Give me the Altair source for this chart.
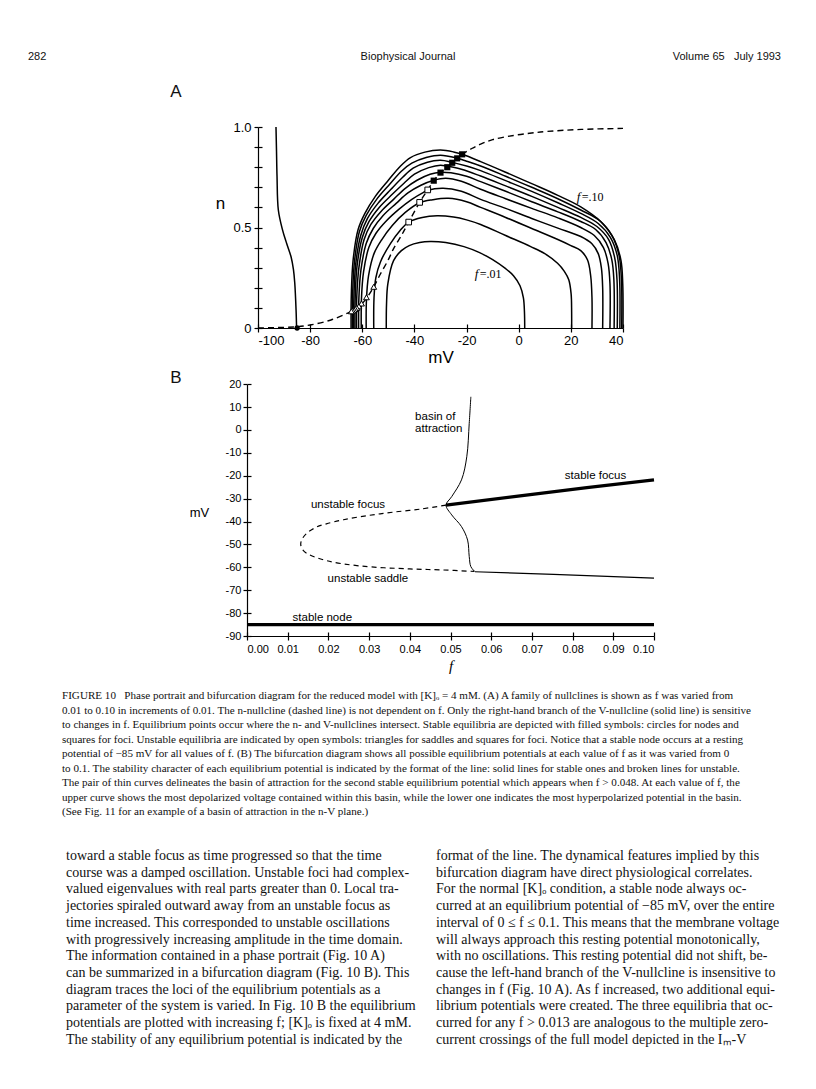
import altair as alt
import pandas as pd

W, H = 800, 1073

# ---------------- Panel A data (mV, n) ----------------
# left-hand V-nullcline branch (independent of f)
lb_V = [-93.1, -92.9, -92.7, -92.2, -90.6, -89.0, -87.3, -86.4, -85.9, -85.4, -85.2]
lb_n = [1.0, 0.88, 0.753, 0.587, 0.488, 0.42, 0.353, 0.29, 0.224, 0.09, 0.0]

# right-hand V-nullcline branches for f = 0.01 ... 0.10
f01_V = [-50.8, -50.7, -50.2, -48.0, -45.0, -42.0, -38.0, -34.0, -28.0, -21.0, -15.0, -10.0, -5.0, -2.0, 0.5, 1.8, 2.2, 2.3]
f01_n = [0.0, 0.12, 0.22, 0.335, 0.385, 0.41, 0.425, 0.43, 0.425, 0.405, 0.375, 0.34, 0.295, 0.26, 0.21, 0.15, 0.08, 0.0]
f02_V = [-55.6, -55.5, -54.8, -53.0, -49.2, -45.5, -42.2, -37.0, -31.3, -25.0, -20.0, -14.6, -5.0, 4.6, 10.0, 14.9, 17.5, 19.2, 20.1, 20.3, 20.3]
f02_n = [0.0, 0.15, 0.25, 0.33, 0.42, 0.485, 0.527, 0.55, 0.558, 0.552, 0.538, 0.515, 0.46, 0.405, 0.37, 0.322, 0.282, 0.24, 0.17, 0.08, 0.0]
f03_V = [-58.5, -58.4, -57.6, -55.5, -52.5, -48.5, -43.5, -38.0, -33.0, -27.0, -20.0, -14.6, -5.0, 5.0, 15.0, 20.0, 23.8, 26.4, 27.6, 28.1, 28.1]
f03_n = [0.0, 0.14, 0.26, 0.37, 0.44, 0.51, 0.575, 0.623, 0.638, 0.645, 0.628, 0.60, 0.55, 0.495, 0.44, 0.41, 0.385, 0.338, 0.26, 0.15, 0.0]
f04_V = [-60.4, -60.3, -59.5, -57.5, -54.8, -51.0, -46.0, -41.0, -36.5, -34.9, -29.0, -22.0, -14.6, -5.0, 5.0, 15.0, 23.8, 28.0, 30.5, 31.7, 32.2, 32.2]
f04_n = [0.0, 0.15, 0.28, 0.40, 0.47, 0.53, 0.59, 0.64, 0.675, 0.685, 0.695, 0.68, 0.64, 0.595, 0.545, 0.497, 0.455, 0.42, 0.37, 0.30, 0.20, 0.0]
f05_V = [-61.4, -61.3, -60.5, -58.5, -55.8, -52.0, -47.0, -42.5, -37.5, -32.6, -28.0, -22.0, -14.6, -5.0, 5.0, 15.0, 23.8, 29.0, 32.5, 34.3, 35.0, 35.0]
f05_n = [0.0, 0.15, 0.29, 0.42, 0.495, 0.56, 0.62, 0.672, 0.71, 0.735, 0.745, 0.73, 0.69, 0.643, 0.595, 0.548, 0.50, 0.46, 0.40, 0.32, 0.22, 0.0]
f06_V = [-62.2, -62.1, -61.3, -59.3, -56.7, -52.8, -48.0, -43.5, -39.0, -34.0, -30.0, -26.0, -20.0, -14.6, -5.0, 5.0, 15.0, 23.8, 29.5, 33.5, 35.7, 36.5, 36.6]
f06_n = [0.0, 0.16, 0.30, 0.44, 0.515, 0.58, 0.64, 0.695, 0.735, 0.765, 0.775, 0.772, 0.755, 0.728, 0.68, 0.628, 0.578, 0.53, 0.49, 0.425, 0.34, 0.24, 0.0]
f07_V = [-62.8, -62.7, -62.0, -60.0, -57.4, -53.5, -48.5, -44.0, -40.0, -34.5, -30.0, -27.4, -22.0, -14.6, -5.0, 5.0, 15.0, 23.8, 30.0, 34.5, 36.8, 37.7, 37.8]
f07_n = [0.0, 0.16, 0.31, 0.45, 0.53, 0.60, 0.665, 0.72, 0.765, 0.798, 0.81, 0.805, 0.79, 0.756, 0.707, 0.655, 0.60, 0.55, 0.505, 0.44, 0.35, 0.24, 0.0]
f08_V = [-63.3, -63.2, -62.5, -60.6, -58.0, -54.0, -49.0, -44.5, -40.5, -35.0, -30.0, -25.5, -20.0, -14.6, -5.0, 5.0, 15.0, 23.8, 30.5, 35.2, 37.8, 38.7, 38.8]
f08_n = [0.0, 0.16, 0.32, 0.46, 0.545, 0.62, 0.69, 0.75, 0.795, 0.825, 0.834, 0.824, 0.806, 0.783, 0.733, 0.68, 0.623, 0.57, 0.52, 0.45, 0.36, 0.24, 0.0]
f09_V = [-63.8, -63.7, -63.0, -61.1, -58.5, -54.5, -49.5, -45.0, -41.0, -35.5, -30.0, -23.6, -20.0, -14.6, -5.0, 5.0, 15.0, 23.8, 31.0, 35.8, 38.5, 39.4, 39.5]
f09_n = [0.0, 0.17, 0.33, 0.48, 0.56, 0.64, 0.715, 0.78, 0.82, 0.848, 0.86, 0.845, 0.83, 0.806, 0.755, 0.70, 0.643, 0.587, 0.535, 0.46, 0.36, 0.24, 0.0]
f10_V = [-64.3, -64.2, -63.5, -61.6, -59.0, -55.0, -50.0, -45.4, -41.5, -36.0, -30.0, -25.0, -21.7, -14.6, -5.0, 5.0, 15.0, 23.8, 31.5, 36.7, 39.2, 39.9, 40.0]
f10_n = [0.0, 0.17, 0.34, 0.49, 0.57, 0.655, 0.735, 0.805, 0.848, 0.875, 0.885, 0.876, 0.864, 0.828, 0.775, 0.718, 0.66, 0.603, 0.529, 0.438, 0.338, 0.22, 0.0]

# n-nullcline (dashed)
nn_V = [-100, -90, -85, -80, -72, -65, -62, -60, -58, -55.6, -53, -50, -48, -45, -42.2, -38, -34.9, -32.6, -30, -27.4, -25.5, -23.6, -21.7, -18, -14.6, -10, -2, 5, 11, 24, 40]
nn_n = [0.0, 0.003, 0.006, 0.015, 0.04, 0.078, 0.1, 0.122, 0.155, 0.205, 0.27, 0.34, 0.395, 0.46, 0.527, 0.625, 0.687, 0.733, 0.773, 0.8, 0.822, 0.844, 0.864, 0.893, 0.915, 0.937, 0.958, 0.97, 0.978, 0.988, 0.993]

# equilibria
node_V, node_n = [-85.0], [0.0]
saddle_V = [-55.6, -58.4, -60.3, -61.3, -62.1, -62.7, -63.2, -63.7, -64.2]
saddle_n = [0.205, 0.153, 0.122, 0.108, 0.1, 0.095, 0.09, 0.086, 0.083]
ufoc_V = [-42.2, -38.0, -34.9]
ufoc_n = [0.527, 0.625, 0.687]
sfoc_V = [-32.6, -30.0, -27.4, -25.5, -23.6, -21.7]
sfoc_n = [0.733, 0.773, 0.8, 0.822, 0.844, 0.864]

# ---------------- Panel B data (f, mV) ----------------
snode_f, snode_mV = [0.0, 0.1], [-85.0, -85.0]
unst_f = [0.0489, 0.0425, 0.0359, 0.030, 0.0237, 0.0195, 0.0171, 0.0147, 0.0135, 0.0132, 0.0135, 0.0147, 0.0196, 0.0278, 0.040, 0.0474, 0.0558]
unst_mV = [-32.8, -34.6, -35.9, -37.3, -39.2, -41.0, -42.4, -45.1, -47.8, -49.8, -51.8, -53.9, -57.1, -59.4, -60.7, -61.1, -61.8]
sfocB_f = [0.0489, 0.0671, 0.0835, 0.100]
sfocB_mV = [-32.8, -28.8, -25.2, -21.8]
low_f = [0.056, 0.0753, 0.100]
low_mV = [-61.9, -63.1, -64.7]
basin_f = [0.0550, 0.0546, 0.0540, 0.0527, 0.0503, 0.0489, 0.0503, 0.0527, 0.0542, 0.0546, 0.0550, 0.0560]
basin_mV = [14.5, 2.9, -11.7, -21.8, -29.1, -32.8, -37.1, -42.2, -48.1, -55.3, -59.7, -61.9]

labB_text = ["basin of", "attraction", "stable focus", "unstable focus", "unstable saddle", "stable node"]
labB_f = [0.0413, 0.0413, 0.0781, 0.0157, 0.0198, 0.0112]
labB_mV = [5.6, 0.6, -20.1, -32.8, -65.0, -82.3]

# ---------------- page text ----------------
caption_lines = [
    "FIGURE 10\u00a0\u00a0\u00a0Phase portrait and bifurcation diagram for the reduced model with [K]\u2092 = 4 mM. (A) A family of nullclines is shown as f was varied from",
    "0.01 to 0.10 in increments of 0.01. The n-nullcline (dashed line) is not dependent on f. Only the right-hand branch of the V-nullcline (solid line) is sensitive",
    "to changes in f. Equilibrium points occur where the n- and V-nullclines intersect. Stable equilibria are depicted with filled symbols: circles for nodes and",
    "squares for foci. Unstable equilibria are indicated by open symbols: triangles for saddles and squares for foci. Notice that a stable node occurs at a resting",
    "potential of \u221285 mV for all values of f. (B) The bifurcation diagram shows all possible equilibrium potentials at each value of f as it was varied from 0",
    "to 0.1. The stability character of each equilibrium potential is indicated by the format of the line: solid lines for stable ones and broken lines for unstable.",
    "The pair of thin curves delineates the basin of attraction for the second stable equilibrium potential which appears when f > 0.048. At each value of f, the",
    "upper curve shows the most depolarized voltage contained within this basin, while the lower one indicates the most hyperpolarized potential in the basin.",
    "(See Fig. 11 for an example of a basin of attraction in the n-V plane.)",
]
body_left = [
    "toward a stable focus as time progressed so that the time",
    "course was a damped oscillation. Unstable foci had complex-",
    "valued eigenvalues with real parts greater than 0. Local tra-",
    "jectories spiraled outward away from an unstable focus as",
    "time increased. This corresponded to unstable oscillations",
    "with progressively increasing amplitude in the time domain.",
    "\u00a0\u00a0\u00a0The information contained in a phase portrait (Fig. 10 A)",
    "can be summarized in a bifurcation diagram (Fig. 10 B). This",
    "diagram traces the loci of the equilibrium potentials as a",
    "parameter of the system is varied. In Fig. 10 B the equilibrium",
    "potentials are plotted with increasing f; [K]\u2092 is fixed at 4 mM.",
    "The stability of any equilibrium potential is indicated by the",
]
body_right = [
    "format of the line. The dynamical features implied by this",
    "bifurcation diagram have direct physiological correlates.",
    "\u00a0\u00a0\u00a0For the normal [K]\u2092 condition, a stable node always oc-",
    "curred at an equilibrium potential of \u221285 mV, over the entire",
    "interval of 0 \u2264 f \u2264 0.1. This means that the membrane voltage",
    "will always approach this resting potential monotonically,",
    "with no oscillations. This resting potential did not shift, be-",
    "cause the left-hand branch of the V-nullcline is insensitive to",
    "changes in f (Fig. 10 A). As f increased, two additional equi-",
    "librium potentials were created. The three equilibria that oc-",
    "curred for any f > 0.013 are analogous to the multiple zero-",
    "current crossings of the full model depicted in the I\u2098-V",
]

SANS = "Liberation Sans"
SERIF = "Liberation Serif"

# ---------------- build tables ----------------
curves = [(".01", f01_V, f01_n), (".02", f02_V, f02_n), (".03", f03_V, f03_n), (".04", f04_V, f04_n),
          (".05", f05_V, f05_n), (".06", f06_V, f06_n), (".07", f07_V, f07_n), (".08", f08_V, f08_n),
          (".09", f09_V, f09_n), (".10", f10_V, f10_n)]
rows = []
for name, vs, ns in curves:
    for i, (v, n) in enumerate(zip(vs, ns)):
        rows.append({"f": name, "V": v, "n": n, "i": i})
dfA_curves = pd.DataFrame(rows)
dfA_left = pd.DataFrame({"V": lb_V, "n": lb_n, "i": list(range(len(lb_V)))})
dfA_nn = pd.DataFrame({"V": nn_V, "n": nn_n, "i": list(range(len(nn_V)))})
dfA_node = pd.DataFrame({"V": node_V, "n": node_n})
dfA_saddle = pd.DataFrame({"V": saddle_V, "n": saddle_n})
dfA_ufoc = pd.DataFrame({"V": ufoc_V, "n": ufoc_n})
dfA_sfoc = pd.DataFrame({"V": sfoc_V, "n": sfoc_n})

# ---------------- scales & axes ----------------
tick_common = dict(tickColor="black", domainColor="black", labelColor="black", titleColor="black",
                   tickWidth=1.2, domainWidth=1.2, grid=False)
minus_expr = "datum.value < 0 ? '-' + abs(datum.value) : '' + datum.value"

scA_x = alt.Scale(domain=[-100, 40], range=[250, 615], nice=False, zero=False)
scA_y = alt.Scale(domain=[0, 1], range=[320, 119], nice=False, zero=False)
axA_x = alt.Axis(orient="bottom", offset=320 - H, values=list(range(-100, 41, 20)), labelExpr=minus_expr,
                 tickSize=4, labelFontSize=13, labelFont=SANS, labelPadding=2,
                 title="mV", titleFont=SANS, titleFontSize=17, titleFontWeight="normal", titlePadding=2,
                 **tick_common)
axA_y = alt.Axis(orient="left", offset=-250, values=[round(0.1 * k, 1) for k in range(11)],
                 labelExpr="datum.value == 0 ? '0' : (abs(datum.value - 0.5) < 0.001 ? '0.5' : (abs(datum.value - 1) < 0.001 ? '1.0' : ''))",
                 tickSize=4, labelFontSize=13, labelFont=SANS, labelPadding=3,
                 title="n", titleFont=SANS, titleFontSize=17, titleFontWeight="normal", titleAngle=0,
                 titleX=-38, titleY=195, titleAlign="center", titleBaseline="middle", **tick_common)
axA_x2 = alt.Axis(orient="top", offset=-320, values=list(range(-100, 41, 20)), labels=False, domain=False,
                  tickSize=4, title=None, **tick_common)
axA_y2 = alt.Axis(orient="right", offset=250 - W, values=[round(0.1 * k, 1) for k in range(11)], labels=False,
                  domain=False, tickSize=4, title=None, **tick_common)


def encA(**extra):
    return dict(x=alt.X("V:Q", scale=scA_x, axis=axA_x), y=alt.Y("n:Q", scale=scA_y, axis=axA_y), **extra)


A_left = alt.Chart(dfA_left).mark_line(color="black", strokeWidth=1.5, interpolate="catmull-rom").encode(
    **encA(order="i:Q"))
A_curves = alt.Chart(dfA_curves).mark_line(color="black", strokeWidth=1.5, interpolate="catmull-rom").encode(
    **encA(detail="f:N", order="i:Q"))
A_nn = alt.Chart(dfA_nn).mark_line(color="black", strokeWidth=1.4, strokeDash=[6, 4], interpolate="catmull-rom").encode(
    **encA(order="i:Q"))
A_node = alt.Chart(dfA_node).mark_point(shape="circle", size=28, filled=True, color="black", opacity=1).encode(**encA())
A_saddle = alt.Chart(dfA_saddle).mark_point(shape="triangle-up", size=34, fill="white", stroke="black",
                                            strokeWidth=1, opacity=1, fillOpacity=1).encode(**encA())
A_ufoc = alt.Chart(dfA_ufoc).mark_point(shape="square", size=32, fill="white", stroke="black",
                                        strokeWidth=1, opacity=1, fillOpacity=1).encode(**encA())
A_sfoc = alt.Chart(dfA_sfoc).mark_point(shape="square", size=38, filled=True, color="black", opacity=1).encode(**encA())

dfA_lab = pd.DataFrame({"V": [22.3, -16.9], "n": [0.652, 0.269], "t": ["=.10", "=.01"]})
A_lab_f = alt.Chart(dfA_lab).mark_text(text="f", font=SERIF, fontStyle="italic", fontSize=13, align="left",
                                       baseline="middle", color="black").encode(**encA())
A_lab_t = alt.Chart(dfA_lab).mark_text(font=SERIF, fontSize=12, align="left", baseline="middle", dx=5,
                                       color="black").encode(**encA(text="t:N"))

panelA = alt.layer(A_left, A_curves, A_nn, A_node, A_saddle, A_ufoc, A_sfoc, A_lab_f, A_lab_t)
panelA_ticks = alt.Chart(dfA_node).mark_point(opacity=0).encode(
    x=alt.X("V:Q", scale=scA_x, axis=axA_x2), y=alt.Y("n:Q", scale=scA_y, axis=axA_y2))

# ---------------- Panel B ----------------
scB_x = alt.Scale(domain=[0, 0.1], range=[239, 646], nice=False, zero=False)
scB_y = alt.Scale(domain=[-90, 20], range=[628, 376.2], nice=False, zero=False)
fvals = [round(0.01 * k, 2) for k in range(11)]
mvals = list(range(-90, 21, 10))
axB_x = alt.Axis(orient="bottom", offset=628 - H, values=fvals, format=".2f", tickSize=4,
                 labelFontSize=11, labelFont=SANS, labelPadding=3,
                 title="f", titleFont=SERIF, titleFontStyle="italic", titleFontWeight="normal", titleFontSize=15,
                 titlePadding=4, **tick_common)
axB_y = alt.Axis(orient="left", offset=-239, values=mvals, labelExpr=minus_expr, tickSize=4,
                 labelFontSize=11, labelFont=SANS, labelPadding=2,
                 title="mV", titleFont=SANS, titleFontSize=13, titleFontWeight="normal", titleAngle=0,
                 titleX=-48, titleY=504, titleAlign="center", titleBaseline="middle", **tick_common)
axB_x2 = alt.Axis(orient="top", offset=-628, values=fvals, labels=False, domain=False, tickSize=4, title=None,
                  **tick_common)
axB_y2 = alt.Axis(orient="right", offset=239 - W, values=mvals, labels=False, domain=False, tickSize=4, title=None,
                  **tick_common)


def encB(**extra):
    return dict(x=alt.X("f:Q", scale=scB_x, axis=axB_x), y=alt.Y("mV:Q", scale=scB_y, axis=axB_y), **extra)


def dfB(fs, ms):
    return pd.DataFrame({"f": fs, "mV": ms, "i": list(range(len(fs)))})


B_node = alt.Chart(dfB(snode_f, snode_mV)).mark_line(color="black", strokeWidth=3.2).encode(**encB(order="i:Q"))
B_unst = alt.Chart(dfB(unst_f, unst_mV)).mark_line(color="black", strokeWidth=1.2, strokeDash=[5, 4],
                                                   interpolate="catmull-rom").encode(**encB(order="i:Q"))
B_sfoc = alt.Chart(dfB(sfocB_f, sfocB_mV)).mark_line(color="black", strokeWidth=3.2).encode(**encB(order="i:Q"))
B_low = alt.Chart(dfB(low_f, low_mV)).mark_line(color="black", strokeWidth=1.1).encode(**encB(order="i:Q"))
B_basin = alt.Chart(dfB(basin_f, basin_mV)).mark_line(color="black", strokeWidth=1.0,
                                                      interpolate="catmull-rom").encode(**encB(order="i:Q"))
B_lab = alt.Chart(pd.DataFrame({"f": labB_f, "mV": labB_mV, "t": labB_text})).mark_text(
    font=SANS, fontSize=11.5, align="left", baseline="middle", color="black").encode(**encB(text="t:N"))

panelB = alt.layer(B_node, B_unst, B_sfoc, B_low, B_basin, B_lab)
panelB_ticks = alt.Chart(dfB([0.0], [-90.0])).mark_point(opacity=0).encode(
    x=alt.X("f:Q", scale=scB_x, axis=axB_x2), y=alt.Y("mV:Q", scale=scB_y, axis=axB_y2))

# ---------------- page text ----------------
dummy = pd.DataFrame({"k": [0]})


def txt(val, x, y, size, font, align="left", baseline="top", lh=None, style="normal"):
    kw = dict(align=align, baseline=baseline, font=font, fontSize=size, fontStyle=style, color="#111")
    if lh:
        kw["lineHeight"] = lh
    return alt.Chart(dummy).mark_text(**kw).encode(x=alt.value(x), y=alt.value(y), text=alt.value(val))


texts = [
    txt("282", 20, 49, 11, SANS, baseline="middle"),
    txt("Biophysical Journal", 400, 49, 11, SANS, align="center", baseline="middle"),
    txt("Volume 65\u00a0\u00a0\u00a0July 1993", 773, 49, 11, SANS, align="right", baseline="middle"),
    txt("A", 168, 84, 17, SANS, align="center", baseline="middle"),
    txt("B", 168, 370, 17, SANS, align="center", baseline="middle"),
    txt(caption_lines, 54, 682, 11.1, SERIF, lh=14.5),
    txt(body_left, 58, 841, 14, SERIF, lh=16.7),
    txt(body_right, 428, 841, 14, SERIF, lh=16.7),
]

chart = alt.layer(panelA, panelA_ticks, panelB, panelB_ticks, *texts).resolve_scale(
    x="independent", y="independent"
).properties(width=W, height=H, padding=0, background="white").configure_view(stroke=None)

chart.save("out.html", embed_options={"renderer": "svg", "actions": False})
